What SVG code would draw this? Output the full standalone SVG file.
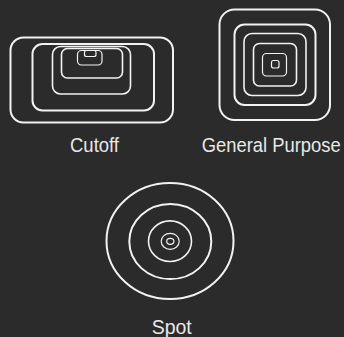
<svg xmlns="http://www.w3.org/2000/svg" width="344" height="337" viewBox="0 0 344 337">
<style>
.s{fill:none;stroke:#f2f2f2}
.w2{stroke-width:2}
.w15{stroke-width:1.6}
.w1{stroke-width:1.2}
text{font-family:"Liberation Sans",Arial,sans-serif;font-size:20.5px;fill:#e8e8e8;text-anchor:middle}
</style>
<rect width="344" height="337" fill="#2b2b2b"/>
<g id="cutoff">
<rect class="s w2" x="10.5" y="37.5" width="162.5" height="85" rx="13"/>
<rect class="s w2" x="32.5" y="44" width="121.5" height="66.5" rx="10"/>
<rect class="s w15" x="52.5" y="46.5" width="78" height="47.5" rx="8"/>
<rect class="s w15" x="61.5" y="48.5" width="61" height="29.5" rx="6"/>
<rect class="s w1" x="77.5" y="50.5" width="24.5" height="14.5" rx="4"/>
<rect class="s w1" x="84.5" y="50.5" width="11.5" height="6" rx="2"/>
<text x="94.5" y="151.7" textLength="49" lengthAdjust="spacingAndGlyphs">Cutoff</text>
</g>
<g id="general">
<rect class="s w2" x="219.5" y="9.5" width="110.5" height="110.5" rx="15"/>
<rect class="s w2" x="234.5" y="24.5" width="81" height="80.5" rx="10"/>
<rect class="s w15" x="244" y="33.5" width="62" height="62" rx="8"/>
<rect class="s w15" x="253.5" y="43.5" width="43" height="42.5" rx="6"/>
<rect class="s w1" x="262.5" y="53.5" width="24" height="22.5" rx="4"/>
<rect class="s w1" x="271.5" y="60.5" width="7.5" height="7.5" rx="2"/>
<text x="271.2" y="151.7" textLength="139" lengthAdjust="spacingAndGlyphs">General Purpose</text>
</g>
<g id="spot">
<ellipse class="s w2" cx="170" cy="241" rx="63.5" ry="58"/>
<ellipse class="s w2" cx="170.3" cy="241.6" rx="41" ry="37.5"/>
<ellipse class="s w15" cx="170" cy="241.2" rx="21.5" ry="20.3"/>
<ellipse class="s w1" cx="170.2" cy="241.3" rx="9" ry="8"/>
<ellipse class="s w1" cx="170.3" cy="241.3" rx="3.6" ry="3"/>
<text x="171.7" y="334" textLength="40" lengthAdjust="spacingAndGlyphs">Spot</text>
</g>
<g id="connectors"/>
</svg>
